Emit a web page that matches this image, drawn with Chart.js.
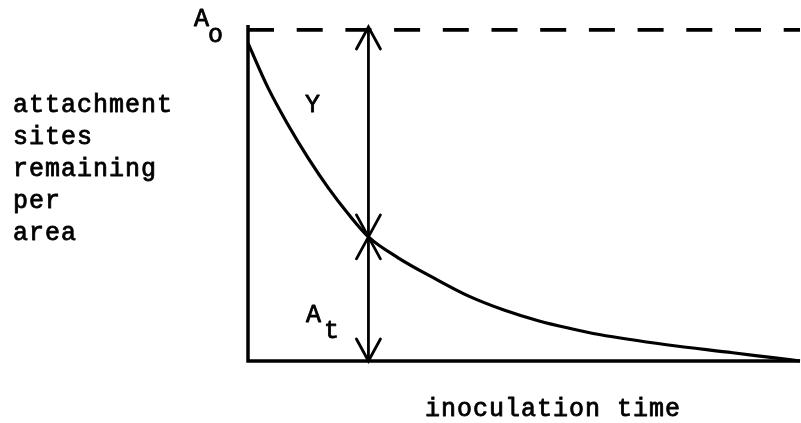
<!DOCTYPE html>
<html>
<head>
<meta charset="utf-8">
<script src="https://cdn.jsdelivr.net/npm/chart.js@4/dist/chart.umd.min.js"></script>
<style>
  html, body { margin: 0; padding: 0; background: #fff; }
  #wrap { width: 801px; height: 423px; position: relative; }
</style>
</head>
<body>
<div id="wrap"><canvas id="c"></canvas></div>
<script>
// ---- data ------------------------------------------------------------------
// decay of attachment sites over inoculation time (arbitrary units)
const curveTime  = [0, 4, 8, 12, 16, 20, 24, 30, 37, 44, 51, 58, 64, 70, 83.4, 96.6, 104.6, 110];
const curveSites = [96, 82.5, 71.3, 61.3, 52.3, 44.4, 37.5, 31.1, 25.1, 19.6, 15.4, 12.1, 9.9, 8.0, 4.9, 2.5, 1.0, 0];

const A0       = 100;   // initial sites (dashed reference)
const markTime = 24;    // time where Y and A_t are marked
const markAt   = 37.5;  // A_t at markTime
const X_MAX    = 110;
const Y_MAX    = 101.5;

const yLabelLines = ['attachment', 'sites', 'remaining', 'per', 'area'];
const xLabel      = 'inoculation time';

const FONT = '"Liberation Mono", "DejaVu Sans Mono", monospace';
const INK  = '#000';

function pts(xs, ys) { return xs.map((x, i) => ({ x, y: ys[i] })); }

function line(label, data, extra = {}) {
  return {
    label, data, borderColor: INK, backgroundColor: 'transparent',
    borderWidth: 3, pointRadius: 0, tension: 0, clip: false,
    ...extra,
  };
}

// ---- arrowheads + labels ---------------------------------------------------
const annot = {
  id: 'annot',
  afterDatasetsDraw(chart) {
    const { ctx, scales: { x, y } } = chart;
    const ax = x.getPixelForValue(markTime);

    function head(px, py, dir) {
      // open V arrowhead, dir = -1 points up, +1 points down
      const len = 22, half = 12;
      ctx.beginPath();
      ctx.moveTo(px - half, py - dir * len);
      ctx.lineTo(px, py);
      ctx.lineTo(px + half, py - dir * len);
      ctx.stroke();
    }

    ctx.save();
    ctx.strokeStyle = INK;
    ctx.lineWidth = 2.8;
    ctx.lineCap = 'round';
    ctx.lineJoin = 'miter';
    head(ax, y.getPixelForValue(A0) - 3, -1);
    head(ax, y.getPixelForValue(markAt), 1);
    head(ax, y.getPixelForValue(markAt), -1);
    head(ax, y.getPixelForValue(0), 1);

    ctx.fillStyle = INK;
    ctx.lineWidth = 0.8;
    ctx.lineJoin = 'round';
    ctx.textBaseline = 'alphabetic';
    ctx.textAlign = 'left';
    ctx.font = `25px ${FONT}`;
    ctx.letterSpacing = '1px';
    const text = (s, tx, ty) => { ctx.fillText(s, tx, ty); ctx.strokeText(s, tx, ty); };

    // y axis title, stacked words
    yLabelLines.forEach((s, i) => text(s, 13, 112 + i * 32));

    // x axis title
    text(xLabel, 425, 416);

    // Y
    text('Y', 305, 112);

    // A_o
    text('A', 194, 26);
    text('o', 208, 42);

    // A_t
    text('A', 306, 322);
    text('t', 324, 338);
    ctx.restore();
  },
};

// ---- chart -----------------------------------------------------------------
new Chart(document.getElementById('c'), {
  type: 'line',
  data: {
    datasets: [
      line('curve', pts(curveTime, curveSites), { borderWidth: 3.2, cubicInterpolationMode: 'monotone' }),
      line('A0', [{ x: 0, y: A0 }, { x: X_MAX, y: A0 }], { borderWidth: 3.8, borderDash: [26, 22.7] }),
      line('axes', [{ x: 0, y: Y_MAX }, { x: 0, y: 0 }, { x: X_MAX, y: 0 }], { borderWidth: 3.5 }),
      line('Y', [{ x: markTime, y: markAt }, { x: markTime, y: A0 }], { borderWidth: 2.8 }),
      line('At', [{ x: markTime, y: 0 }, { x: markTime, y: markAt }], { borderWidth: 2.8 }),
    ],
  },
  options: {
    animation: false,
    responsive: true,
    maintainAspectRatio: false,
    layout: { padding: { left: 248, right: 1, top: 25, bottom: 62 } },
    plugins: { legend: { display: false }, tooltip: { enabled: false } },
    scales: {
      x: { type: 'linear', min: 0, max: X_MAX, display: false },
      y: { type: 'linear', min: 0, max: Y_MAX, display: false },
    },
  },
  plugins: [annot],
});
</script>
</body>
</html>
